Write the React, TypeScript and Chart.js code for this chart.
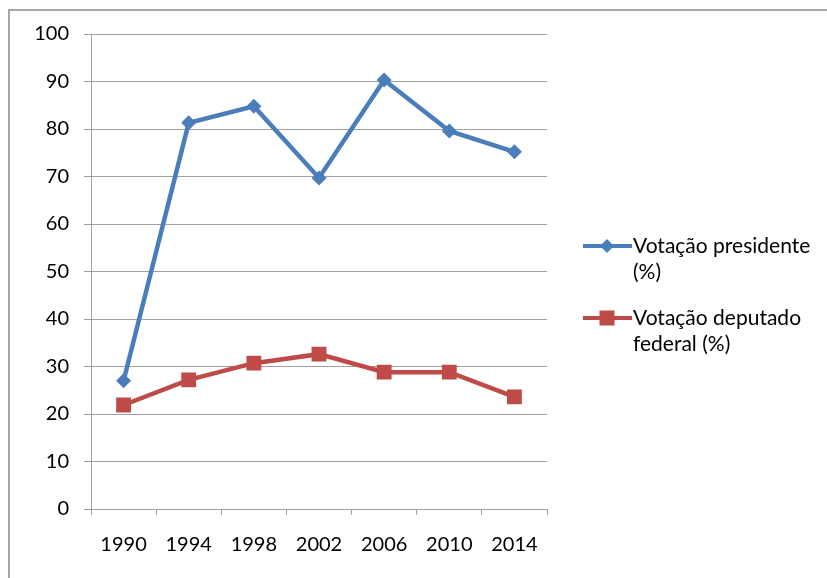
import React, { useEffect, useRef } from "react";
import { Chart, registerables } from "chart.js";

Chart.register(...registerables);

const categories = ["1990", "1994", "1998", "2002", "2006", "2010", "2014"];
const presidente = [27.0, 81.3, 84.8, 69.7, 90.3, 79.6, 75.2];
const deputado = [21.9, 27.2, 30.7, 32.6, 28.8, 28.8, 23.6];
const seriesNames = [["Votação presidente", "(%)"], ["Votação deputado", "federal (%)"]];
const BLUE = "#4a7ebb";
const RED = "#be4b48";
const FONT = "Lato, 'Open Sans', sans-serif";

const framePlugin = {
  id: "frame",
  beforeDraw(chart: any) {
    const ctx = chart.ctx;
    ctx.save();
    ctx.fillStyle = "#ffffff";
    ctx.fillRect(0, 0, chart.width, chart.height);
    ctx.strokeStyle = "#a6a6a6";
    ctx.lineWidth = 2;
    ctx.beginPath();
    ctx.moveTo(9, chart.height + 5);
    ctx.lineTo(9, 10);
    ctx.lineTo(chart.width + 5, 10);
    ctx.stroke();
    ctx.restore();
  },
};

const legendPlugin = {
  id: "customLegend",
  afterDraw(chart: any) {
    const ctx = chart.ctx;
    ctx.save();
    const entries = [
      { color: BLUE, style: "diamond", y: 246, lines: seriesNames[0] },
      { color: RED, style: "square", y: 318, lines: seriesNames[1] },
    ];
    for (const e of entries) {
      ctx.strokeStyle = e.color;
      ctx.fillStyle = e.color;
      ctx.lineWidth = 4;
      ctx.beginPath();
      ctx.moveTo(583, e.y);
      ctx.lineTo(632, e.y);
      ctx.stroke();
      const cx = 607;
      if (e.style === "diamond") {
        ctx.beginPath();
        ctx.moveTo(cx, e.y - 7);
        ctx.lineTo(cx + 7, e.y);
        ctx.lineTo(cx, e.y + 7);
        ctx.lineTo(cx - 7, e.y);
        ctx.closePath();
        ctx.fill();
      } else {
        ctx.fillRect(cx - 7.5, e.y - 7.5, 15, 15);
      }
      ctx.fillStyle = "#000000";
      ctx.font = `21px ${FONT}`;
      ctx.textBaseline = "middle";
      ctx.textAlign = "left";
      e.lines.forEach((t: string, i: number) => {
        ctx.fillText(t, 633, e.y + i * 26);
      });
    }
    ctx.restore();
  },
};

export default function App() {
  const ref = useRef<HTMLCanvasElement>(null);
  useEffect(() => {
    const chart = new Chart(ref.current!, {
      type: "line",
      data: {
        labels: categories,
        datasets: [
          {
            label: seriesNames[0].join(" "),
            data: presidente,
            borderColor: BLUE,
            backgroundColor: BLUE,
            borderWidth: 4.5,
            pointStyle: "rectRot",
            pointRadius: 7.5,
            pointBorderWidth: 0,
            tension: 0,
          },
          {
            label: seriesNames[1].join(" "),
            data: deputado,
            borderColor: RED,
            backgroundColor: RED,
            borderWidth: 4.5,
            pointStyle: "rect",
            pointRadius: 10.5,
            pointBorderWidth: 0,
            tension: 0,
          },
        ],
      },
      options: {
        animation: false,
        responsive: false,
        maintainAspectRatio: false,
        layout: { padding: { top: 34, right: 280, bottom: 0, left: 0 } },
        plugins: { legend: { display: false }, tooltip: { enabled: false }, title: { display: false } },
        scales: {
          x: {
            offset: true,
            afterFit: (s: any) => { s.height = 69; },
            grid: { offset: true, drawOnChartArea: false, drawTicks: true, tickLength: 6, color: "#a0a0a0", lineWidth: 1 },
            border: { display: true, color: "#a0a0a0", width: 1 },
            ticks: { color: "#000", font: { family: FONT, size: 20 }, padding: 18, maxRotation: 0 },
          },
          y: {
            min: 0,
            max: 100,
            afterFit: (s: any) => { s.width = 91; },
            grid: { color: "#a0a0a0", lineWidth: 1, tickLength: 7 },
            border: { display: true, color: "#a0a0a0", width: 1 },
            ticks: { stepSize: 10, color: "#000", font: { family: FONT, size: 20 }, padding: 15 },
          },
        },
      },
      plugins: [framePlugin, legendPlugin],
    });
    return () => chart.destroy();
  }, []);
  return (
    <div style={{ position: "fixed", left: 0, top: 0, width: 827, height: 578, background: "#fff" }}>
      <canvas ref={ref} width={827} height={578} style={{ display: "block" }} />
    </div>
  );
}
